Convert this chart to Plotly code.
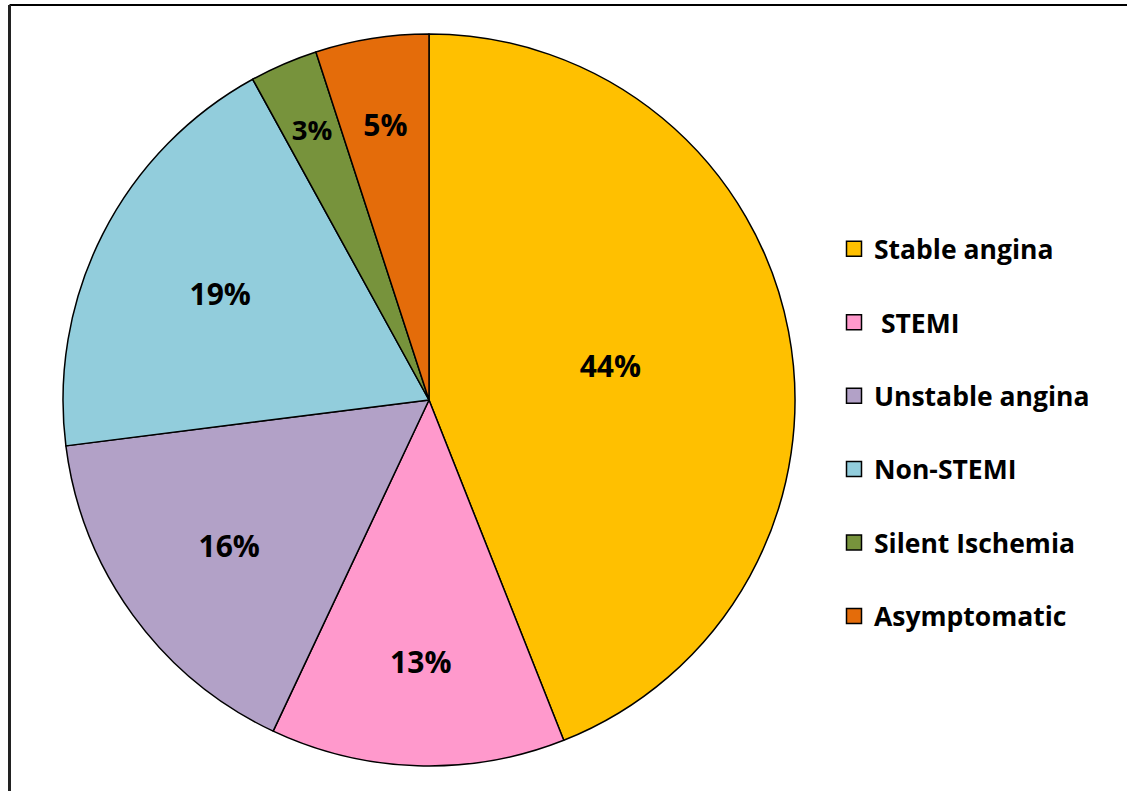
import plotly.graph_objects as go

categories = ["Stable angina", " STEMI", "Unstable angina", "Non-STEMI", "Silent Ischemia", "Asymptomatic"]
values = [44, 13, 16, 19, 3, 5]
colors = ["#FFC000", "#FF99CC", "#B2A1C7", "#92CDDC", "#77933C", "#E46C0A"]

W, H = 1127, 791
cx, cy, r = 429, 400, 366
SMALL = 10  # slices below this percentage get their label placed nearer the centre

font_family = "Open Sans"
main_tt = ["<b>%{value}%</b>" if v >= SMALL else "" for v in values]
small_tt = ["<b>%{value}%</b>" if v < SMALL else "" for v in values]


def dom(rad):
    return dict(x=[(cx - rad) / W, (cx + rad) / W], y=[1 - (cy + rad) / H, 1 - (cy - rad) / H])


fig = go.Figure()
fig.add_trace(go.Pie(
    labels=categories, values=values, sort=False, direction="clockwise", rotation=0,
    marker=dict(colors=colors, line=dict(color="black", width=1.5)),
    texttemplate=main_tt, textposition="inside", insidetextorientation="horizontal",
    textfont=dict(family=font_family, size=30, color="black"),
    domain=dom(r), showlegend=False, hoverinfo="label+percent",
))
# transparent inner copy only used to position the labels of the thin slices
fig.add_trace(go.Pie(
    labels=categories, values=values, sort=False, direction="clockwise", rotation=0,
    marker=dict(colors=["rgba(0,0,0,0)"] * len(values), line=dict(width=0)),
    texttemplate=small_tt, textposition="inside", insidetextorientation="horizontal",
    textfont=dict(family=font_family, size=30, color="black"),
    domain=dom(r * 0.88), showlegend=False, hoverinfo="skip",
))

for i, (name, col) in enumerate(zip(categories, colors)):
    fig.add_trace(go.Scatter(
        x=[None], y=[None], mode="markers", name=f"<b>{name}</b>", legendgroup=f"g{i}",
        marker=dict(symbol="square", size=15, color=col, line=dict(color="black", width=1.5)),
    ))

fig.update_layout(
    width=W, height=H, margin=dict(l=0, r=0, t=0, b=0),
    paper_bgcolor="white", plot_bgcolor="white",
    xaxis=dict(visible=False), yaxis=dict(visible=False),
    legend=dict(x=834 / W, y=1 - 225 / H, xanchor="left", yanchor="top",
                font=dict(family=font_family, size=26.5, color="black"),
                tracegroupgap=36, itemclick=False, bgcolor="rgba(0,0,0,0)"),
    shapes=[
        dict(type="line", xref="paper", yref="paper", x0=9.5 / W, x1=1.01, y0=1 - 5 / H, y1=1 - 5 / H,
             line=dict(color="black", width=2)),
        dict(type="line", xref="paper", yref="paper", x0=9.5 / W, x1=9.5 / W, y0=1 - 5 / H, y1=-0.01,
             line=dict(color="#222222", width=3)),
    ],
)

fig.write_html("out.html", config={"displayModeBar": False},
               post_script="document.body.style.margin='0';document.body.style.overflow='hidden';")
